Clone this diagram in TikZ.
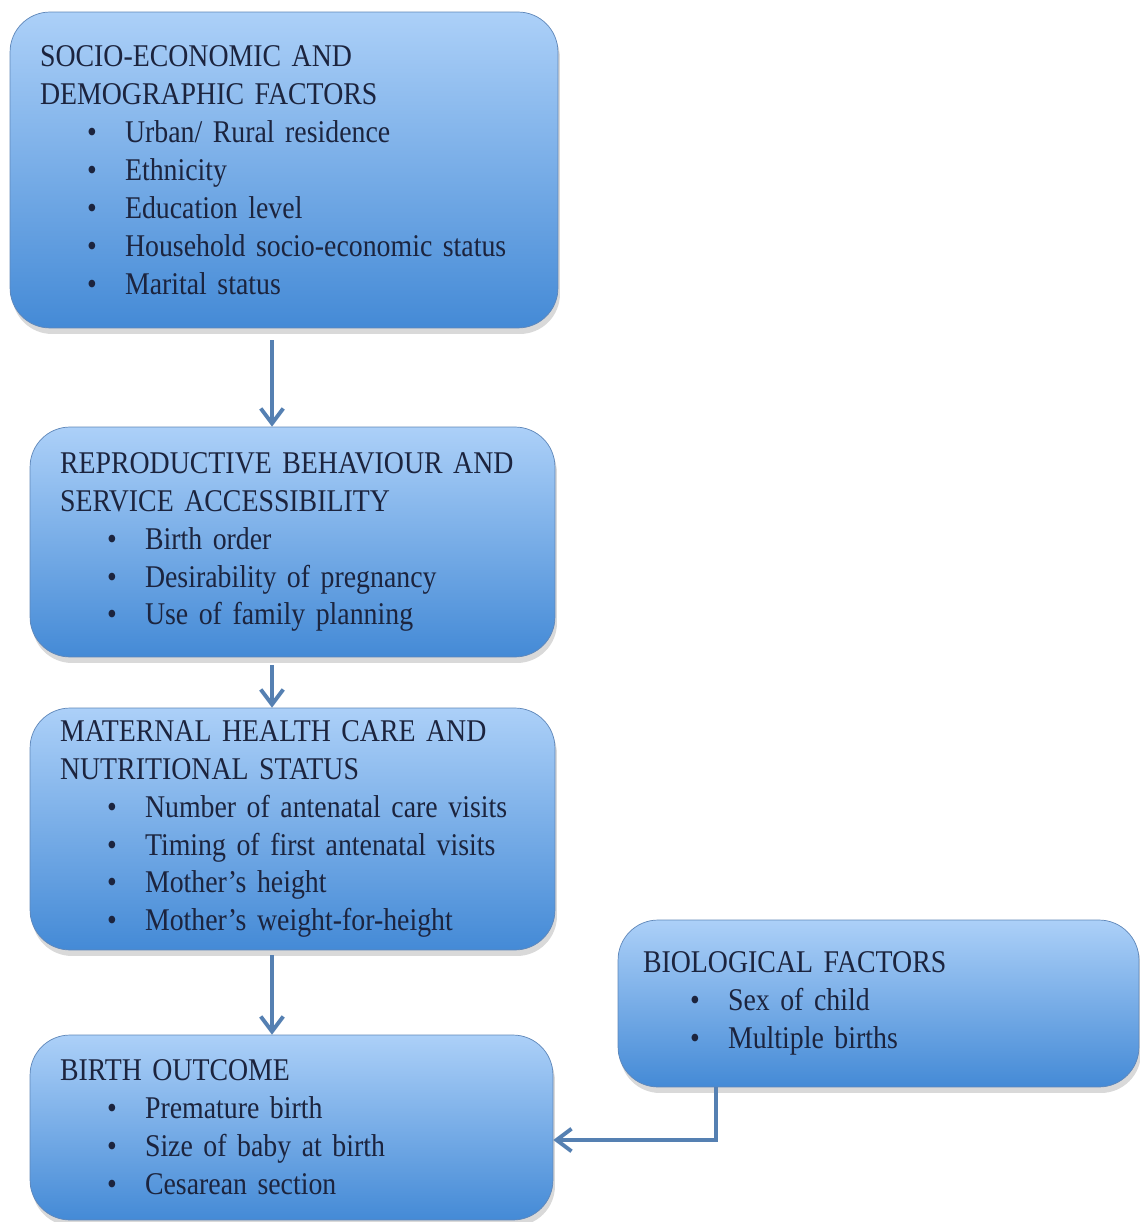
\documentclass[tikz,border=0pt]{standalone}
\usepackage{fontspec}
\setmainfont{Liberation Serif}[FakeStretch=0.88]
\usetikzlibrary{shapes, arrows.meta, positioning, shadows, calc}
\definecolor{fxtop}{RGB}{172,208,248}
\definecolor{fxbottom}{RGB}{68,138,214}
\definecolor{fxedge}{RGB}{95,135,185}
\definecolor{fxline}{RGB}{85,128,178}
\definecolor{fxtext}{RGB}{28,36,62}
\newcommand{\itm}[1]{\makebox[1.7cm][l]{\hspace{0.94cm}\textbullet}#1}

\begin{document}
\begin{tikzpicture}[
      x=0.02cm, y=-0.02cm,
      factor/.style={rectangle, rounded corners=0.8cm, draw=fxedge, thin,
        top color=fxtop, bottom color=fxbottom, text=fxtext,
        drop shadow={opacity=0.3, shadow xshift=0.04cm, shadow yshift=-0.12cm},
        align=left, inner xsep=0.6cm, font=\fontsize{18}{21.6}\selectfont},
      arrow/.style={-{Straight Barb[length=0.3cm, width=0.45cm]}, draw=fxline, line width=2.2pt}
    ]
      \useasboundingbox (0,0) rectangle (1139,1222);

      % Main chain
      \node[factor, text width=9.76cm, minimum height=6.32cm] (socio) at (284,170)
        {SOCIO-ECONOMIC AND\\DEMOGRAPHIC FACTORS\\
         \itm{Urban/ Rural residence}\\\itm{Ethnicity}\\\itm{Education level}\\
         \itm{Household socio-economic status}\\\itm{Marital status}};
      \node[factor, text width=9.3cm, minimum height=4.6cm] (repro) at (292.5,542)
        {REPRODUCTIVE BEHAVIOUR AND\\SERVICE ACCESSIBILITY\\
         \itm{Birth order}\\\itm{Desirability of pregnancy}\\\itm{Use of family planning}};
      \node[factor, text width=9.3cm, minimum height=4.84cm, inner ysep=0pt] (maternal) at (292.5,829)
        {MATERNAL HEALTH CARE AND\\NUTRITIONAL STATUS\\
         \itm{Number of antenatal care visits}\\\itm{Timing of first antenatal visits}\\
         \itm{Mother’s height}\\\itm{Mother’s weight-for-height}};
      \node[factor, text width=9.26cm, minimum height=3.7cm] (birth) at (291.5,1127.5)
        {BIRTH OUTCOME\\
         \itm{Premature birth}\\\itm{Size of baby at birth}\\\itm{Cesarean section}};

      % Side factor
      \node[factor, text width=9.42cm, inner xsep=0.5cm, minimum height=3.34cm] (bio) at (878.5,1003.5)
        {BIOLOGICAL FACTORS\\
         \itm{Sex of child}\\\itm{Multiple births}};

      % Connections
      \coordinate (spine) at (272,0);
      \coordinate (bend) at (716,1140);
      \draw[arrow, shorten <=0.24cm] (socio.south -| spine) -- (repro.north -| spine);
      \draw[arrow, shorten <=0.16cm] (repro.south -| spine) -- (maternal.north -| spine);
      \draw[arrow, shorten <=0.1cm] (maternal.south -| spine) -- (birth.north -| spine);
      \draw[arrow] (bio.south -| bend) |- (birth.east |- bend);
    \end{tikzpicture}
\end{document}
